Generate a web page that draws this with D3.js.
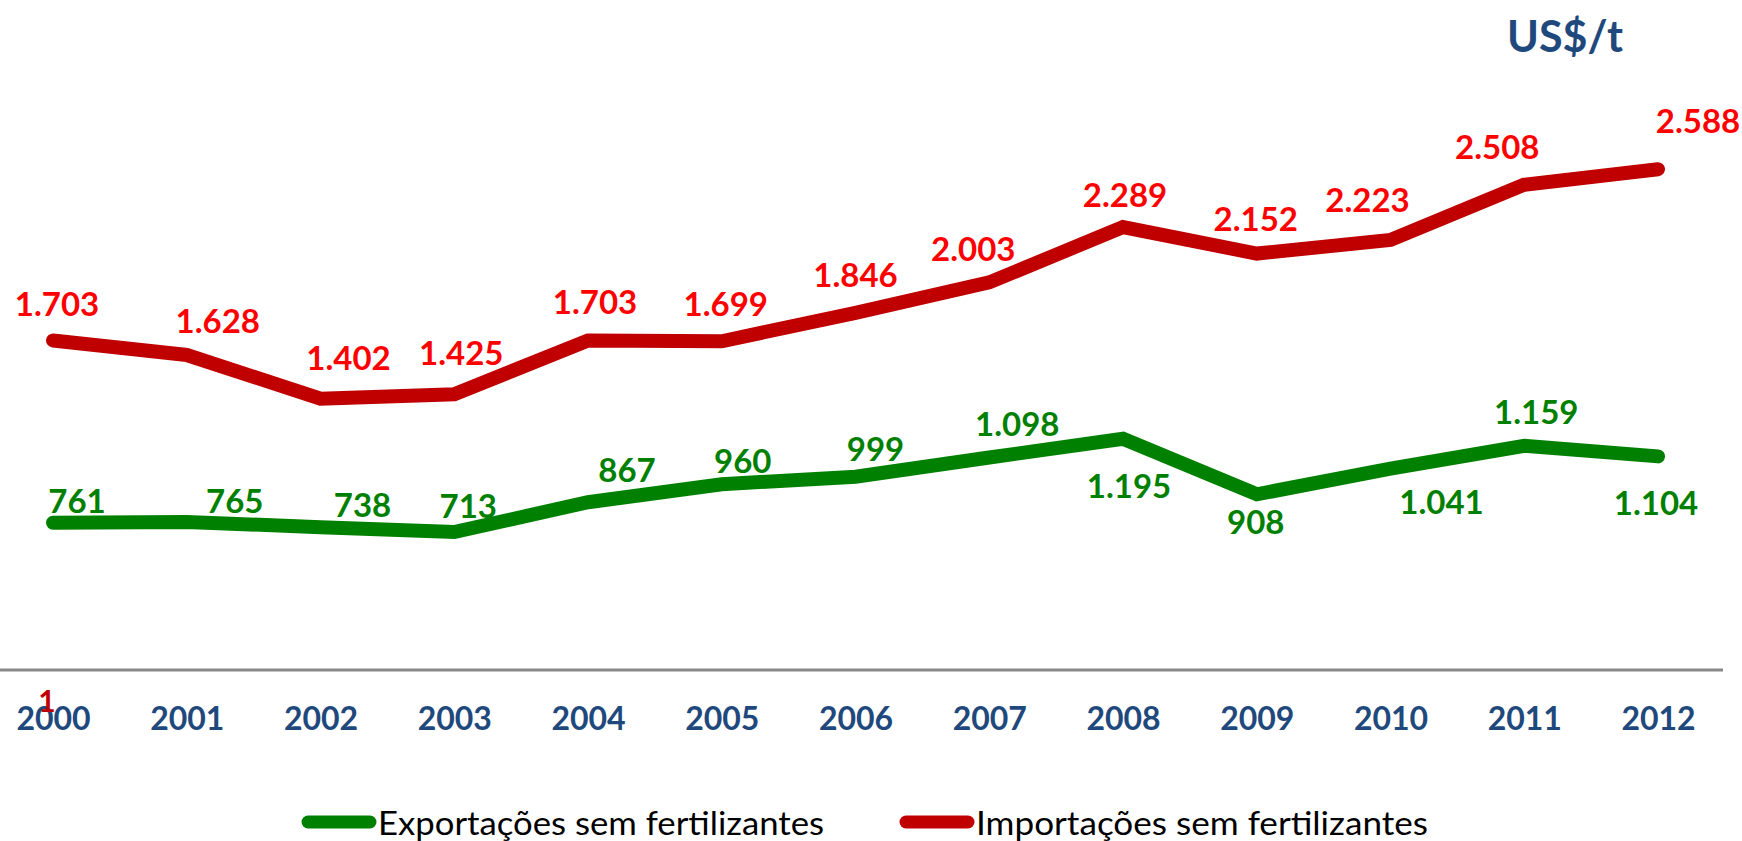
<!DOCTYPE html>
<html>
<head>
<meta charset="utf-8">
<script src="https://cdn.jsdelivr.net/npm/d3@7"></script>
<style>
  html, body { margin: 0; padding: 0; background: #fff; }
  svg { display: block; }
</style>
</head>
<body>
<div id="chart"></div>
<script>
var width = 1742,
    height = 841;

// dados (US$/t)
var years = ["2000", "2001", "2002", "2003", "2004", "2005", "2006", "2007", "2008", "2009", "2010", "2011", "2012"];
var exportacoes = [761, 765, 738, 713, 867, 960, 999, 1098, 1195, 908, 1041, 1159, 1104];
var importacoes = [1703, 1628, 1402, 1425, 1703, 1699, 1846, 2003, 2289, 2152, 2223, 2508, 2588];
var seriesNames = ["Exportações sem fertilizantes", "Importações sem fertilizantes"];

// label nudges (px) so the value labels sit like in the original
var expLabelShift = [[24, -22], [48, -21], [42, -22], [14, -26], [39, -32], [21, -23], [20, -28], [28, -33], [6, 47], [-1, 28], [51, 34], [12, -34], [-2, 47]];
var impLabelShift = [[4, -36], [31, -34], [28, -41], [7, -41], [7, -38], [4, -37], [0, -38], [-16, -33], [2, -32], [-1, -34], [-23, -40], [-27, -38], [40, -48]];

var fmt = function (v) { return d3.format(",")(v).replace(",", "."); };

var svg = d3.select("#chart").append("svg")
    .attr("width", width)
    .attr("height", height)
    .style("font-family", "Lato, 'Open Sans', sans-serif");

var x = d3.scalePoint()
    .domain(years)
    .range([53, 1658]);

var y = d3.scaleLinear()
    .domain([0, 3000])
    .range([670, 89.5]);

// eixo
svg.append("line")
    .attr("x1", 0).attr("x2", 1723)
    .attr("y1", y(0)).attr("y2", y(0))
    .attr("stroke", "#888888")
    .attr("stroke-width", 3);

var xAxis = svg.append("g")
    .attr("transform", "translate(0," + y(0) + ")")
    .call(d3.axisBottom(x).tickSize(0).tickPadding(37));
xAxis.select(".domain").remove();
xAxis.selectAll("text")
    .attr("font-family", "Lato, sans-serif")
    .attr("font-size", 32)
    .attr("font-weight", "bold")
    .attr("fill", "#1F497D");

// stray label seen in the original
svg.append("text")
    .attr("x", x("2000") - 6)
    .attr("y", 712)
    .attr("text-anchor", "middle")
    .attr("font-size", 30)
    .attr("font-weight", "bold")
    .attr("fill", "#C00000")
    .text("1");

// unidade
svg.append("text")
    .attr("x", 1565)
    .attr("y", 52)
    .attr("text-anchor", "middle")
    .attr("font-size", 43)
    .attr("font-weight", "bold")
    .attr("fill", "#1F497D")
    .text("US$/t");

var line = d3.line()
    .x(function (d, i) { return x(years[i]); })
    .y(function (d) { return y(d); });

var series = [
    { values: exportacoes, shift: expLabelShift, lineColor: "#008000", labelColor: "#008000" },
    { values: importacoes, shift: impLabelShift, lineColor: "#C00000", labelColor: "#FF0000" }
];

series.forEach(function (s) {
    svg.append("path")
        .datum(s.values)
        .attr("d", line)
        .attr("fill", "none")
        .attr("stroke", s.lineColor)
        .attr("stroke-width", 14)
        .attr("stroke-linecap", "round")
        .attr("stroke-linejoin", "miter");

    svg.append("g").selectAll("text")
        .data(s.values)
        .enter().append("text")
        .attr("x", function (d, i) { return x(years[i]) + s.shift[i][0]; })
        .attr("y", function (d, i) { return y(d) + s.shift[i][1]; })
        .attr("dy", "0.36em")
        .attr("text-anchor", "middle")
        .attr("font-size", 33)
        .attr("font-weight", "bold")
        .attr("fill", s.labelColor)
        .text(function (d) { return fmt(d); });
});

// legenda
var legend = [
    { name: seriesNames[0], color: "#008000", x0: 302, textW: 446 },
    { name: seriesNames[1], color: "#C00000", x0: 900, textW: 452 }
];
legend.forEach(function (l) {
    svg.append("line")
        .attr("x1", l.x0 + 6).attr("x2", l.x0 + 68)
        .attr("y1", 822).attr("y2", 822)
        .attr("stroke", l.color)
        .attr("stroke-width", 13)
        .attr("stroke-linecap", "round");
    svg.append("text")
        .attr("x", l.x0 + 76)
        .attr("y", 835)
        .attr("font-size", 33)
        .attr("fill", "#000")
        .attr("textLength", l.textW)
        .attr("lengthAdjust", "spacingAndGlyphs")
        .text(l.name);
});
</script>
</body>
</html>
